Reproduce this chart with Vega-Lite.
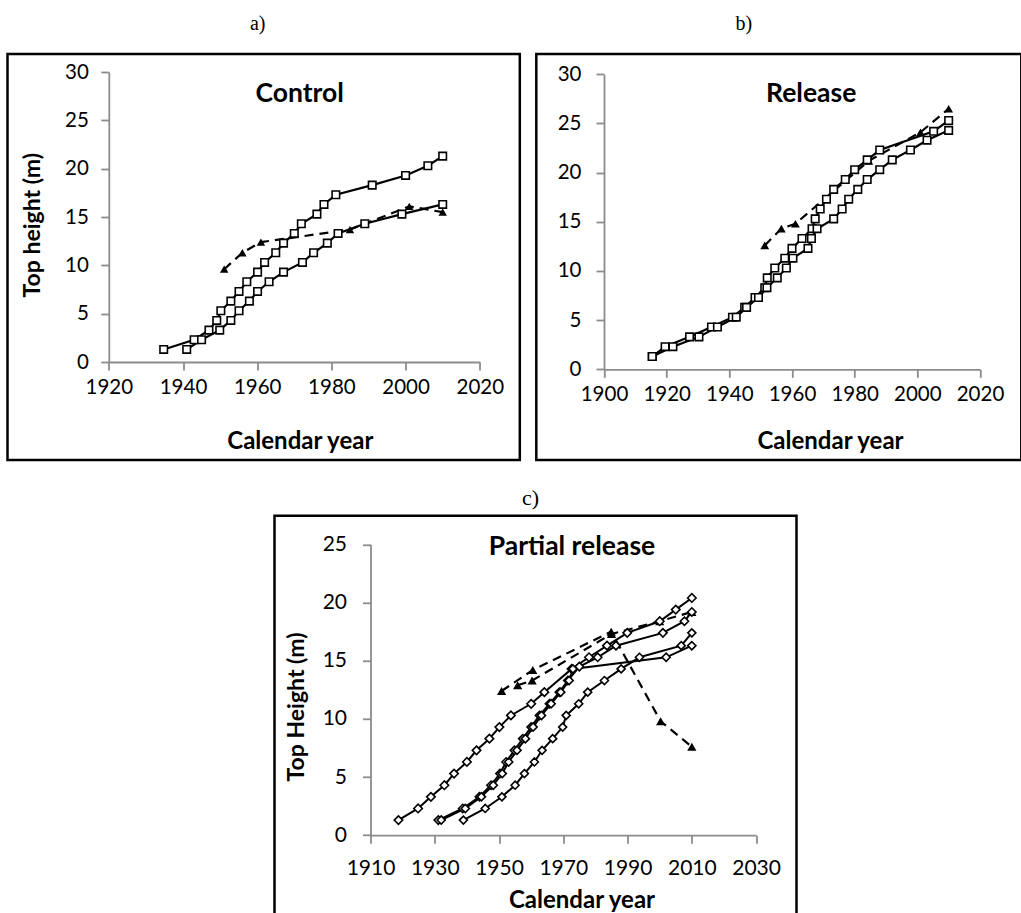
{
  "$schema": "https://vega.github.io/schema/vega-lite/v6.json",
  "background": "white",
  "padding": {"left": 5.5, "top": 13, "right": 0, "bottom": -11.5},
  "config": {
    "view": {"stroke": null},
    "font": "Lato",
    "concat": {"spacing": 0},
    "axis": {
      "grid": false,
      "domainColor": "#8c8c8c",
      "domainWidth": 1.8,
      "tickColor": "#8c8c8c",
      "tickWidth": 1.8,
      "tickSize": 8,
      "labelColor": "#000000",
      "labelFont": "Lato",
      "labelFontSize": 20.5,
      "labelFlush": false,
      "labelOverlap": false,
      "titleFont": "Lato",
      "titleFontWeight": "bold",
      "titleColor": "#000000"
    },
    "title": {"font": "Lato", "fontSize": 26.5, "fontWeight": "bold", "color": "#000000"}
  },
  "datasets": {
    "control": [
      {"series": "A1", "kind": "obs", "year": 1934.8, "height": 1.3},
      {"series": "A1", "kind": "obs", "year": 1943.0, "height": 2.3},
      {"series": "A1", "kind": "obs", "year": 1947.0, "height": 3.3},
      {"series": "A1", "kind": "obs", "year": 1949.1, "height": 4.3},
      {"series": "A1", "kind": "obs", "year": 1950.2, "height": 5.3},
      {"series": "A1", "kind": "obs", "year": 1952.9, "height": 6.3},
      {"series": "A1", "kind": "obs", "year": 1955.1, "height": 7.3},
      {"series": "A1", "kind": "obs", "year": 1957.2, "height": 8.3},
      {"series": "A1", "kind": "obs", "year": 1960.1, "height": 9.3},
      {"series": "A1", "kind": "obs", "year": 1962.0, "height": 10.3},
      {"series": "A1", "kind": "obs", "year": 1965.0, "height": 11.3},
      {"series": "A1", "kind": "obs", "year": 1967.1, "height": 12.3},
      {"series": "A1", "kind": "obs", "year": 1970.0, "height": 13.3},
      {"series": "A1", "kind": "obs", "year": 1971.9, "height": 14.3},
      {"series": "A1", "kind": "obs", "year": 1976.1, "height": 15.3},
      {"series": "A1", "kind": "obs", "year": 1978.0, "height": 16.3},
      {"series": "A1", "kind": "obs", "year": 1981.2, "height": 17.3},
      {"series": "A1", "kind": "obs", "year": 1991.0, "height": 18.3},
      {"series": "A1", "kind": "obs", "year": 2000.0, "height": 19.3},
      {"series": "A1", "kind": "obs", "year": 2006.0, "height": 20.3},
      {"series": "A1", "kind": "obs", "year": 2010.0, "height": 21.3},
      {"series": "A2", "kind": "obs", "year": 1941.0, "height": 1.3},
      {"series": "A2", "kind": "obs", "year": 1945.0, "height": 2.3},
      {"series": "A2", "kind": "obs", "year": 1949.9, "height": 3.3},
      {"series": "A2", "kind": "obs", "year": 1952.9, "height": 4.3},
      {"series": "A2", "kind": "obs", "year": 1955.1, "height": 5.3},
      {"series": "A2", "kind": "obs", "year": 1957.9, "height": 6.3},
      {"series": "A2", "kind": "obs", "year": 1960.1, "height": 7.3},
      {"series": "A2", "kind": "obs", "year": 1963.2, "height": 8.3},
      {"series": "A2", "kind": "obs", "year": 1967.1, "height": 9.3},
      {"series": "A2", "kind": "obs", "year": 1972.2, "height": 10.3},
      {"series": "A2", "kind": "obs", "year": 1975.2, "height": 11.3},
      {"series": "A2", "kind": "obs", "year": 1978.9, "height": 12.3},
      {"series": "A2", "kind": "obs", "year": 1981.8, "height": 13.3},
      {"series": "A2", "kind": "obs", "year": 1989.0, "height": 14.3},
      {"series": "A2", "kind": "obs", "year": 1999.0, "height": 15.3},
      {"series": "A2", "kind": "obs", "year": 2010.0, "height": 16.3},
      {"series": "AM", "kind": "model", "year": 1951.1, "height": 9.6},
      {"series": "AM", "kind": "model", "year": 1956.0, "height": 11.3},
      {"series": "AM", "kind": "model", "year": 1961.0, "height": 12.4},
      {"series": "AM", "kind": "model", "year": 1985.0, "height": 13.7},
      {"series": "AM", "kind": "model", "year": 2001.0, "height": 16.1},
      {"series": "AM", "kind": "model", "year": 2010.0, "height": 15.5}
    ],
    "release": [
      {"series": "B1", "kind": "obs", "year": 1915.4, "height": 1.3},
      {"series": "B1", "kind": "obs", "year": 1919.5, "height": 2.3},
      {"series": "B1", "kind": "obs", "year": 1927.3, "height": 3.3},
      {"series": "B1", "kind": "obs", "year": 1934.3, "height": 4.3},
      {"series": "B1", "kind": "obs", "year": 1941.0, "height": 5.3},
      {"series": "B1", "kind": "obs", "year": 1944.9, "height": 6.3},
      {"series": "B1", "kind": "obs", "year": 1948.2, "height": 7.3},
      {"series": "B1", "kind": "obs", "year": 1951.3, "height": 8.3},
      {"series": "B1", "kind": "obs", "year": 1952.1, "height": 9.3},
      {"series": "B1", "kind": "obs", "year": 1954.5, "height": 10.3},
      {"series": "B1", "kind": "obs", "year": 1957.7, "height": 11.3},
      {"series": "B1", "kind": "obs", "year": 1960.0, "height": 12.3},
      {"series": "B1", "kind": "obs", "year": 1963.2, "height": 13.3},
      {"series": "B1", "kind": "obs", "year": 1966.4, "height": 14.3},
      {"series": "B1", "kind": "obs", "year": 1967.4, "height": 15.3},
      {"series": "B1", "kind": "obs", "year": 1969.0, "height": 16.3},
      {"series": "B1", "kind": "obs", "year": 1971.0, "height": 17.3},
      {"series": "B1", "kind": "obs", "year": 1973.3, "height": 18.3},
      {"series": "B1", "kind": "obs", "year": 1977.0, "height": 19.3},
      {"series": "B1", "kind": "obs", "year": 1980.0, "height": 20.3},
      {"series": "B1", "kind": "obs", "year": 1984.0, "height": 21.3},
      {"series": "B1", "kind": "obs", "year": 1988.0, "height": 22.3},
      {"series": "B1", "kind": "obs", "year": 2005.2, "height": 24.2},
      {"series": "B1", "kind": "obs", "year": 2010.0, "height": 25.3},
      {"series": "B2", "kind": "obs", "year": 1915.4, "height": 1.3},
      {"series": "B2", "kind": "obs", "year": 1922.0, "height": 2.3},
      {"series": "B2", "kind": "obs", "year": 1930.3, "height": 3.3},
      {"series": "B2", "kind": "obs", "year": 1936.2, "height": 4.3},
      {"series": "B2", "kind": "obs", "year": 1942.2, "height": 5.3},
      {"series": "B2", "kind": "obs", "year": 1945.5, "height": 6.3},
      {"series": "B2", "kind": "obs", "year": 1949.3, "height": 7.3},
      {"series": "B2", "kind": "obs", "year": 1952.0, "height": 8.3},
      {"series": "B2", "kind": "obs", "year": 1955.3, "height": 9.3},
      {"series": "B2", "kind": "obs", "year": 1958.2, "height": 10.3},
      {"series": "B2", "kind": "obs", "year": 1960.3, "height": 11.3},
      {"series": "B2", "kind": "obs", "year": 1965.1, "height": 12.3},
      {"series": "B2", "kind": "obs", "year": 1966.2, "height": 13.3},
      {"series": "B2", "kind": "obs", "year": 1968.0, "height": 14.3},
      {"series": "B2", "kind": "obs", "year": 1973.3, "height": 15.3},
      {"series": "B2", "kind": "obs", "year": 1976.0, "height": 16.3},
      {"series": "B2", "kind": "obs", "year": 1978.1, "height": 17.3},
      {"series": "B2", "kind": "obs", "year": 1981.0, "height": 18.3},
      {"series": "B2", "kind": "obs", "year": 1984.0, "height": 19.3},
      {"series": "B2", "kind": "obs", "year": 1988.0, "height": 20.3},
      {"series": "B2", "kind": "obs", "year": 1992.0, "height": 21.3},
      {"series": "B2", "kind": "obs", "year": 1997.8, "height": 22.3},
      {"series": "B2", "kind": "obs", "year": 2003.1, "height": 23.3},
      {"series": "B2", "kind": "obs", "year": 2010.0, "height": 24.3},
      {"series": "BM", "kind": "model", "year": 1951.3, "height": 12.6},
      {"series": "BM", "kind": "model", "year": 1956.6, "height": 14.3},
      {"series": "BM", "kind": "model", "year": 1961.1, "height": 14.8},
      {"series": "BM", "kind": "model", "year": 1984.5, "height": 21.2},
      {"series": "BM", "kind": "model", "year": 2001.0, "height": 24.1},
      {"series": "BM", "kind": "model", "year": 2010.0, "height": 26.5}
    ],
    "partial": [
      {"series": "C1", "kind": "obs", "year": 1918.7, "height": 1.3},
      {"series": "C1", "kind": "obs", "year": 1924.8, "height": 2.3},
      {"series": "C1", "kind": "obs", "year": 1928.8, "height": 3.3},
      {"series": "C1", "kind": "obs", "year": 1933.0, "height": 4.3},
      {"series": "C1", "kind": "obs", "year": 1936.0, "height": 5.3},
      {"series": "C1", "kind": "obs", "year": 1940.0, "height": 6.3},
      {"series": "C1", "kind": "obs", "year": 1943.0, "height": 7.3},
      {"series": "C1", "kind": "obs", "year": 1947.0, "height": 8.3},
      {"series": "C1", "kind": "obs", "year": 1950.1, "height": 9.3},
      {"series": "C1", "kind": "obs", "year": 1953.7, "height": 10.3},
      {"series": "C1", "kind": "obs", "year": 1960.0, "height": 11.3},
      {"series": "C1", "kind": "obs", "year": 1964.1, "height": 12.3},
      {"series": "C1", "kind": "obs", "year": 1972.6, "height": 14.3},
      {"series": "C1", "kind": "obs", "year": 1978.0, "height": 15.3},
      {"series": "C1", "kind": "obs", "year": 1983.6, "height": 16.3},
      {"series": "C1", "kind": "obs", "year": 1989.9, "height": 17.4},
      {"series": "C1", "kind": "obs", "year": 2000.0, "height": 18.4},
      {"series": "C1", "kind": "obs", "year": 2005.0, "height": 19.4},
      {"series": "C1", "kind": "obs", "year": 2010.0, "height": 20.4},
      {"series": "C2", "kind": "obs", "year": 1931.1, "height": 1.3},
      {"series": "C2", "kind": "obs", "year": 1938.7, "height": 2.3},
      {"series": "C2", "kind": "obs", "year": 1943.9, "height": 3.3},
      {"series": "C2", "kind": "obs", "year": 1947.5, "height": 4.3},
      {"series": "C2", "kind": "obs", "year": 1950.3, "height": 5.3},
      {"series": "C2", "kind": "obs", "year": 1952.2, "height": 6.3},
      {"series": "C2", "kind": "obs", "year": 1954.8, "height": 7.3},
      {"series": "C2", "kind": "obs", "year": 1957.4, "height": 8.3},
      {"series": "C2", "kind": "obs", "year": 1960.0, "height": 9.3},
      {"series": "C2", "kind": "obs", "year": 1962.6, "height": 10.3},
      {"series": "C2", "kind": "obs", "year": 1965.7, "height": 11.3},
      {"series": "C2", "kind": "obs", "year": 1968.8, "height": 12.3},
      {"series": "C2", "kind": "obs", "year": 1971.4, "height": 13.3},
      {"series": "C2", "kind": "obs", "year": 1975.0, "height": 14.5},
      {"series": "C2", "kind": "obs", "year": 1980.7, "height": 15.3},
      {"series": "C2", "kind": "obs", "year": 1986.4, "height": 16.3},
      {"series": "C2", "kind": "obs", "year": 2001.0, "height": 17.4},
      {"series": "C2", "kind": "obs", "year": 2007.7, "height": 18.4},
      {"series": "C2", "kind": "obs", "year": 2010.0, "height": 19.2},
      {"series": "C3", "kind": "obs", "year": 1932.0, "height": 1.3},
      {"series": "C3", "kind": "obs", "year": 1939.5, "height": 2.3},
      {"series": "C3", "kind": "obs", "year": 1944.5, "height": 3.3},
      {"series": "C3", "kind": "obs", "year": 1948.2, "height": 4.3},
      {"series": "C3", "kind": "obs", "year": 1951.0, "height": 5.3},
      {"series": "C3", "kind": "obs", "year": 1953.0, "height": 6.3},
      {"series": "C3", "kind": "obs", "year": 1955.6, "height": 7.3},
      {"series": "C3", "kind": "obs", "year": 1958.2, "height": 8.3},
      {"series": "C3", "kind": "obs", "year": 1960.6, "height": 9.3},
      {"series": "C3", "kind": "obs", "year": 1963.2, "height": 10.3},
      {"series": "C3", "kind": "obs", "year": 1966.2, "height": 11.3},
      {"series": "C3", "kind": "obs", "year": 1969.2, "height": 12.3},
      {"series": "C3", "kind": "obs", "year": 1971.8, "height": 13.3},
      {"series": "C3", "kind": "obs", "year": 1973.0, "height": 14.3},
      {"series": "C3", "kind": "obs", "year": 2002.0, "height": 15.3},
      {"series": "C3", "kind": "obs", "year": 2010.0, "height": 16.3},
      {"series": "C4", "kind": "obs", "year": 1938.9, "height": 1.3},
      {"series": "C4", "kind": "obs", "year": 1945.7, "height": 2.3},
      {"series": "C4", "kind": "obs", "year": 1950.9, "height": 3.3},
      {"series": "C4", "kind": "obs", "year": 1955.0, "height": 4.3},
      {"series": "C4", "kind": "obs", "year": 1957.9, "height": 5.3},
      {"series": "C4", "kind": "obs", "year": 1961.0, "height": 6.3},
      {"series": "C4", "kind": "obs", "year": 1963.4, "height": 7.3},
      {"series": "C4", "kind": "obs", "year": 1966.7, "height": 8.3},
      {"series": "C4", "kind": "obs", "year": 1969.8, "height": 9.3},
      {"series": "C4", "kind": "obs", "year": 1970.9, "height": 10.3},
      {"series": "C4", "kind": "obs", "year": 1974.8, "height": 11.3},
      {"series": "C4", "kind": "obs", "year": 1977.6, "height": 12.3},
      {"series": "C4", "kind": "obs", "year": 1982.8, "height": 13.3},
      {"series": "C4", "kind": "obs", "year": 1988.0, "height": 14.3},
      {"series": "C4", "kind": "obs", "year": 1993.7, "height": 15.3},
      {"series": "C4", "kind": "obs", "year": 2006.7, "height": 16.3},
      {"series": "C4", "kind": "obs", "year": 2010.0, "height": 17.4},
      {"series": "D1", "kind": "model", "year": 1950.8, "height": 12.4},
      {"series": "D1", "kind": "model", "year": 1960.5, "height": 14.2},
      {"series": "D1", "kind": "model", "year": 1984.9, "height": 17.5},
      {"series": "D1", "kind": "model", "year": 2000.3, "height": 9.8},
      {"series": "D1", "kind": "model", "year": 2010.0, "height": 7.6},
      {"series": "D2", "kind": "model", "year": 1955.8, "height": 12.9},
      {"series": "D2", "kind": "model", "year": 1960.3, "height": 13.3},
      {"series": "D2", "kind": "model", "year": 1985.0, "height": 17.3},
      {"series": "D2", "kind": "model", "year": 2000.0, "height": 18.4},
      {"series": "D2", "kind": "model", "year": 2010.0, "height": 19.2}
    ]
  },
  "spacing": 23.8,
  "vconcat": [
    {
      "spacing": 12.8,
      "hconcat": [
        {
          "title": {"text": "a)", "font": "Liberation Serif", "fontWeight": "normal", "fontSize": 20, "baseline": "alphabetic", "anchor": "middle", "offset": 3, "dx": -6},
          "vconcat": [
            {
              "width": 512.3,
              "height": 406,
              "view": {"stroke": "#000000", "strokeWidth": 2.5},
              "title": {"text": "Control", "anchor": "middle", "frame": "group", "baseline": "top", "offset": -53, "dx": 36},
              "data": {"name": "control"},
              "encoding": {
                "x": {
                  "field": "year", "type": "quantitative",
                  "scale": {"domain": [1920, 2020], "range": [101.3, 472.3], "nice": false, "zero": false},
                  "axis": {"values": [1920, 1940, 1960, 1980, 2000, 2020], "format": "d", "title": "Calendar year", "titleFontSize": 24, "offset": -98, "labelPadding": 7, "titlePadding": 32, "titleX": 292.3}
                },
                "y": {
                  "field": "height", "type": "quantitative",
                  "scale": {"domain": [0, 30], "range": [308, 18], "nice": false},
                  "axis": {"values": [0, 5, 10, 15, 20, 25, 30], "title": "Top height (m)", "titleFontSize": 23, "offset": -101.3, "labelPadding": 12.5, "titlePadding": 20, "titleY": 170.7}
                }
              },
              "layer": [
                {"transform": [{"filter": "datum.kind === 'model'"}], "mark": {"type": "line", "color": "#000000", "strokeWidth": 2.2, "strokeDash": [9, 6]}, "encoding": {"detail": {"field": "series"}}},
                {"transform": [{"filter": "datum.kind === 'model'"}], "mark": {"type": "point", "shape": "triangle-up", "filled": true, "color": "#000000", "opacity": 1, "size": 72}},
                {"transform": [{"filter": "datum.kind === 'obs'"}], "mark": {"type": "line", "color": "#000000", "strokeWidth": 2.2}, "encoding": {"detail": {"field": "series"}}},
                {"transform": [{"filter": "datum.kind === 'obs'"}], "mark": {"type": "point", "shape": "square", "filled": true, "fill": "#ffffff", "stroke": "#000000", "strokeWidth": 1.6, "opacity": 1, "size": 56}}
              ]
            }
          ]
        },
        {
          "title": {"text": "b)", "font": "Liberation Serif", "fontWeight": "normal", "fontSize": 20, "baseline": "alphabetic", "anchor": "middle", "offset": 3, "dx": -35},
          "vconcat": [
            {
              "width": 485,
              "height": 406,
              "view": {"stroke": "#000000", "strokeWidth": 2.5},
              "title": {"text": "Release", "anchor": "middle", "frame": "group", "baseline": "top", "offset": -53, "dx": 32.4},
              "data": {"name": "release"},
              "encoding": {
                "x": {
                  "field": "year", "type": "quantitative",
                  "scale": {"domain": [1900, 2020], "range": [67.7, 443.7], "nice": false, "zero": false},
                  "axis": {"values": [1900, 1920, 1940, 1960, 1980, 2000, 2020], "format": "d", "title": "Calendar year", "titleFontSize": 24, "offset": -90.7, "labelPadding": 7.5, "titlePadding": 24, "titleX": 293.7}
                },
                "y": {
                  "field": "height", "type": "quantitative",
                  "scale": {"domain": [0, 30], "range": [315.3, 20.3], "nice": false},
                  "axis": {"values": [0, 5, 10, 15, 20, 25, 30], "title": null, "offset": -67.7, "labelPadding": 15}
                }
              },
              "layer": [
                {"transform": [{"filter": "datum.kind === 'model'"}], "mark": {"type": "line", "color": "#000000", "strokeWidth": 2.2, "strokeDash": [9, 6]}, "encoding": {"detail": {"field": "series"}}},
                {"transform": [{"filter": "datum.kind === 'model'"}], "mark": {"type": "point", "shape": "triangle-up", "filled": true, "color": "#000000", "opacity": 1, "size": 78}},
                {"transform": [{"filter": "datum.kind === 'obs'"}], "mark": {"type": "line", "color": "#000000", "strokeWidth": 2.2}, "encoding": {"detail": {"field": "series"}}},
                {"transform": [{"filter": "datum.kind === 'obs'"}], "mark": {"type": "point", "shape": "square", "filled": true, "fill": "#ffffff", "stroke": "#000000", "strokeWidth": 1.6, "opacity": 1, "size": 56}}
              ]
            }
          ]
        }
      ]
    },
    {
      "spacing": 0,
      "hconcat": [
        {"width": 265, "height": 10, "data": {"values": []}, "mark": "point"},
        {
          "title": {"text": "c)", "font": "Liberation Serif", "fontWeight": "normal", "fontSize": 22, "baseline": "alphabetic", "anchor": "middle", "offset": -12, "dx": -5},
          "vconcat": [
            {
              "width": 522,
              "height": 406,
              "view": {"stroke": "#000000", "strokeWidth": 2.5},
              "title": {"text": "Partial release", "anchor": "middle", "frame": "group", "baseline": "top", "offset": -44.4, "dx": 36.5},
              "data": {"name": "partial"},
              "encoding": {
                "x": {
                  "field": "year", "type": "quantitative",
                  "scale": {"domain": [1910, 2030], "range": [96, 481.6], "nice": false, "zero": false},
                  "axis": {"values": [1910, 1930, 1950, 1970, 1990, 2010, 2030], "format": "d", "title": "Calendar year", "titleFontSize": 24, "offset": -86.6, "labelPadding": 14, "labelFontSize": 21, "titlePadding": 10, "titleX": 307}
                },
                "y": {
                  "field": "height", "type": "quantitative",
                  "scale": {"domain": [0, 25], "range": [319.4, 28.7], "nice": false},
                  "axis": {"values": [0, 5, 10, 15, 20, 25], "title": "Top Height (m)", "titleFontSize": 23, "offset": -96, "labelPadding": 16, "labelFontSize": 21, "titlePadding": 14, "titleY": 190.7}
                }
              },
              "layer": [
                {"transform": [{"filter": "datum.kind === 'model'"}], "mark": {"type": "line", "color": "#000000", "strokeWidth": 2.2, "strokeDash": [9, 6]}, "encoding": {"detail": {"field": "series"}}},
                {"transform": [{"filter": "datum.kind === 'model'"}], "mark": {"type": "point", "shape": "triangle-up", "filled": true, "color": "#000000", "opacity": 1, "size": 85}},
                {"transform": [{"filter": "datum.kind === 'obs'"}], "mark": {"type": "line", "color": "#000000", "strokeWidth": 2}, "encoding": {"detail": {"field": "series"}}},
                {
                  "transform": [{"filter": "datum.kind === 'obs'"}],
                  "mark": {"type": "point", "shape": "diamond", "filled": true, "fill": "#ffffff", "stroke": "#000000", "strokeWidth": 1.6, "opacity": 1},
                  "encoding": {"size": {"field": "series", "type": "ordinal", "scale": {"domain": ["C1", "C2", "C3", "C4"], "range": [72, 64, 56, 32]}, "legend": null}}
                }
              ]
            }
          ]
        }
      ]
    }
  ]
}
